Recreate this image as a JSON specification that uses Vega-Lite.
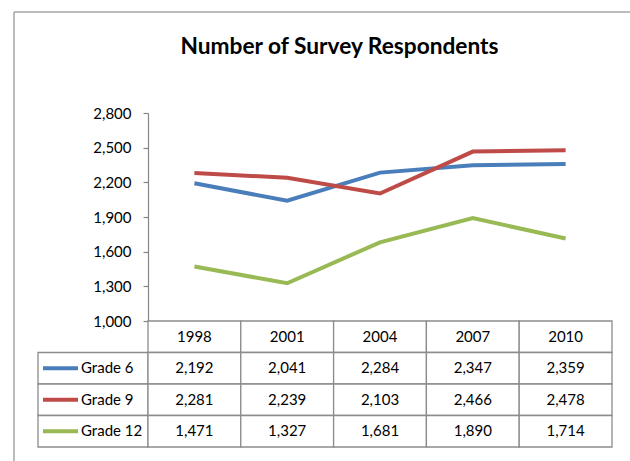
{
  "$schema": "https://vega.github.io/schema/vega-lite/v6.json",
  "padding": {"left": 13, "top": 11, "right": 0, "bottom": 0},
  "background": "white",
  "title": {"text": "Number of Survey Respondents", "font": "Lato", "fontSize": 22.7, "fontWeight": "bold", "color": "#000000", "anchor": "middle", "frame": "bounds", "offset": -47, "dx": 17},
  "config": {"view": {"stroke": null}, "font": "Lato"},
  "datasets": {
    "series": [
      {"year": "1998", "grade": "Grade 6", "value": 2192},
      {"year": "2001", "grade": "Grade 6", "value": 2041},
      {"year": "2004", "grade": "Grade 6", "value": 2284},
      {"year": "2007", "grade": "Grade 6", "value": 2347},
      {"year": "2010", "grade": "Grade 6", "value": 2359},
      {"year": "1998", "grade": "Grade 9", "value": 2281},
      {"year": "2001", "grade": "Grade 9", "value": 2239},
      {"year": "2004", "grade": "Grade 9", "value": 2103},
      {"year": "2007", "grade": "Grade 9", "value": 2466},
      {"year": "2010", "grade": "Grade 9", "value": 2478},
      {"year": "1998", "grade": "Grade 12", "value": 1471},
      {"year": "2001", "grade": "Grade 12", "value": 1327},
      {"year": "2004", "grade": "Grade 12", "value": 1681},
      {"year": "2007", "grade": "Grade 12", "value": 1890},
      {"year": "2010", "grade": "Grade 12", "value": 1714}
    ],
    "years": [
      {"year": "1998", "grade": "Year"},
      {"year": "2001", "grade": "Year"},
      {"year": "2004", "grade": "Year"},
      {"year": "2007", "grade": "Year"},
      {"year": "2010", "grade": "Year"}
    ],
    "grades": [{"grade": "Grade 6"}, {"grade": "Grade 9"}, {"grade": "Grade 12"}],
    "blank": [{}]
  },
  "columns": 3,
  "spacing": 0,
  "bounds": "flush",
  "align": "each",
  "concat": [
    {
      "width": 24, "height": 101, "data": {"name": "blank"},
      "layer": [
        {"mark": {"type": "rule", "color": "#A6A6A6", "strokeWidth": 1.5},
         "encoding": {"y": {"datum": 1, "type": "quantitative", "scale": {"domain": [0, 1], "nice": false}, "axis": null}}},
        {"mark": {"type": "rule", "color": "#A6A6A6", "strokeWidth": 1.5},
         "encoding": {"x": {"datum": 0, "type": "quantitative", "scale": {"domain": [0, 1], "nice": false}, "axis": null}}}
      ]
    },
    {
      "width": 110, "height": 101, "data": {"name": "blank"},
      "mark": {"type": "rule", "color": "#A6A6A6", "strokeWidth": 1.5},
      "encoding": {"y": {"datum": 1, "type": "quantitative", "scale": {"domain": [0, 1], "nice": false}, "axis": null}}
    },
    {
      "width": 483, "height": 101, "data": {"name": "blank"},
      "mark": {"type": "rule", "color": "#A6A6A6", "strokeWidth": 1.5},
      "encoding": {"y": {"datum": 1, "type": "quantitative", "scale": {"domain": [0, 1], "nice": false}, "axis": null}}
    },
    {
      "width": 24, "height": 208, "data": {"name": "blank"},
      "mark": {"type": "rule", "color": "#A6A6A6", "strokeWidth": 1.5},
      "encoding": {"x": {"datum": 0, "type": "quantitative", "scale": {"domain": [0, 1], "nice": false}, "axis": null}}
    },
    {
      "width": 110, "height": 208, "data": {"name": "blank"},
      "mark": {"type": "text", "text": ""},
      "encoding": {}
    },
    {
      "width": 464, "height": 208, "data": {"name": "series"},
      "mark": {"type": "line", "strokeWidth": 4},
      "encoding": {
        "x": {"field": "year", "type": "ordinal", "scale": {"type": "point", "padding": 0.5}, "axis": null},
        "y": {"field": "value", "type": "quantitative",
              "scale": {"domain": [1000, 2800], "nice": false, "zero": false},
              "axis": {"values": [1000, 1300, 1600, 1900, 2200, 2500, 2800], "format": ",.0f", "title": null, "grid": false,
                       "tickSize": 5, "labelPadding": 12, "labelFont": "Lato", "labelFontSize": 15, "labelColor": "#000000",
                       "domainColor": "#868686", "tickColor": "#868686", "domainWidth": 1.2, "tickWidth": 1.2}},
        "color": {"field": "grade", "type": "nominal",
                  "scale": {"domain": ["Grade 6", "Grade 9", "Grade 12"], "range": ["#4A7EBB", "#BE4B48", "#98B954"]},
                  "legend": null}
      }
    },
    {
      "width": 24, "height": 141, "data": {"name": "blank"},
      "mark": {"type": "rule", "color": "#A6A6A6", "strokeWidth": 1.5},
      "encoding": {"x": {"datum": 0, "type": "quantitative", "scale": {"domain": [0, 1], "nice": false}, "axis": null}}
    },
    {
      "width": 110, "height": 126, "data": {"name": "grades"},
      "layer": [
        {"mark": {"type": "rect", "fill": "white", "stroke": "#8C8C8C", "strokeWidth": 1.3},
         "encoding": {
           "x": {"datum": 0, "type": "quantitative", "scale": {"domain": [0, 110], "nice": false, "zero": false}, "axis": null},
           "x2": {"datum": 110},
           "y": {"field": "grade", "type": "nominal", "scale": {"type": "band", "domain": ["Year", "Grade 6", "Grade 9", "Grade 12"], "paddingInner": 0, "paddingOuter": 0}, "axis": null}
         }},
        {"mark": {"type": "rule", "strokeWidth": 4},
         "encoding": {
           "x": {"datum": 5, "type": "quantitative"},
           "x2": {"datum": 40},
           "y": {"field": "grade", "type": "nominal", "bandPosition": 0.5},
           "color": {"field": "grade", "type": "nominal",
                     "scale": {"domain": ["Grade 6", "Grade 9", "Grade 12"], "range": ["#4A7EBB", "#BE4B48", "#98B954"]},
                     "legend": null}
         }},
        {"mark": {"type": "text", "align": "left", "baseline": "middle", "font": "Lato", "fontSize": 15, "color": "#000000"},
         "encoding": {
           "x": {"datum": 43, "type": "quantitative"},
           "y": {"field": "grade", "type": "nominal", "bandPosition": 0.5},
           "text": {"field": "grade"}
         }}
      ]
    },
    {
      "width": 464, "height": 126,
      "layer": [
        {"data": {"name": "years"},
         "mark": {"type": "rect", "fill": "white", "stroke": "#8C8C8C", "strokeWidth": 1.3},
         "encoding": {
           "x": {"field": "year", "type": "ordinal", "scale": {"type": "band", "domain": ["1998", "2001", "2004", "2007", "2010"], "paddingInner": 0, "paddingOuter": 0}, "axis": null},
           "y": {"field": "grade", "type": "nominal", "scale": {"type": "band", "domain": ["Year", "Grade 6", "Grade 9", "Grade 12"], "paddingInner": 0, "paddingOuter": 0}, "axis": null}
         }},
        {"data": {"name": "series"},
         "mark": {"type": "rect", "fill": "white", "stroke": "#8C8C8C", "strokeWidth": 1.3},
         "encoding": {
           "x": {"field": "year", "type": "ordinal"},
           "y": {"field": "grade", "type": "nominal"}
         }},
        {"data": {"name": "years"},
         "mark": {"type": "text", "baseline": "middle", "align": "center", "font": "Lato", "fontSize": 15, "color": "#000000"},
         "encoding": {
           "x": {"field": "year", "type": "ordinal", "bandPosition": 0.5},
           "y": {"field": "grade", "type": "nominal", "bandPosition": 0.5},
           "text": {"field": "year"}
         }},
        {"data": {"name": "series"},
         "mark": {"type": "text", "baseline": "middle", "align": "center", "font": "Lato", "fontSize": 15, "color": "#000000"},
         "encoding": {
           "x": {"field": "year", "type": "ordinal", "bandPosition": 0.5},
           "y": {"field": "grade", "type": "nominal", "bandPosition": 0.5},
           "text": {"field": "value", "type": "quantitative", "format": ",.0f"}
         }}
      ]
    }
  ]
}
